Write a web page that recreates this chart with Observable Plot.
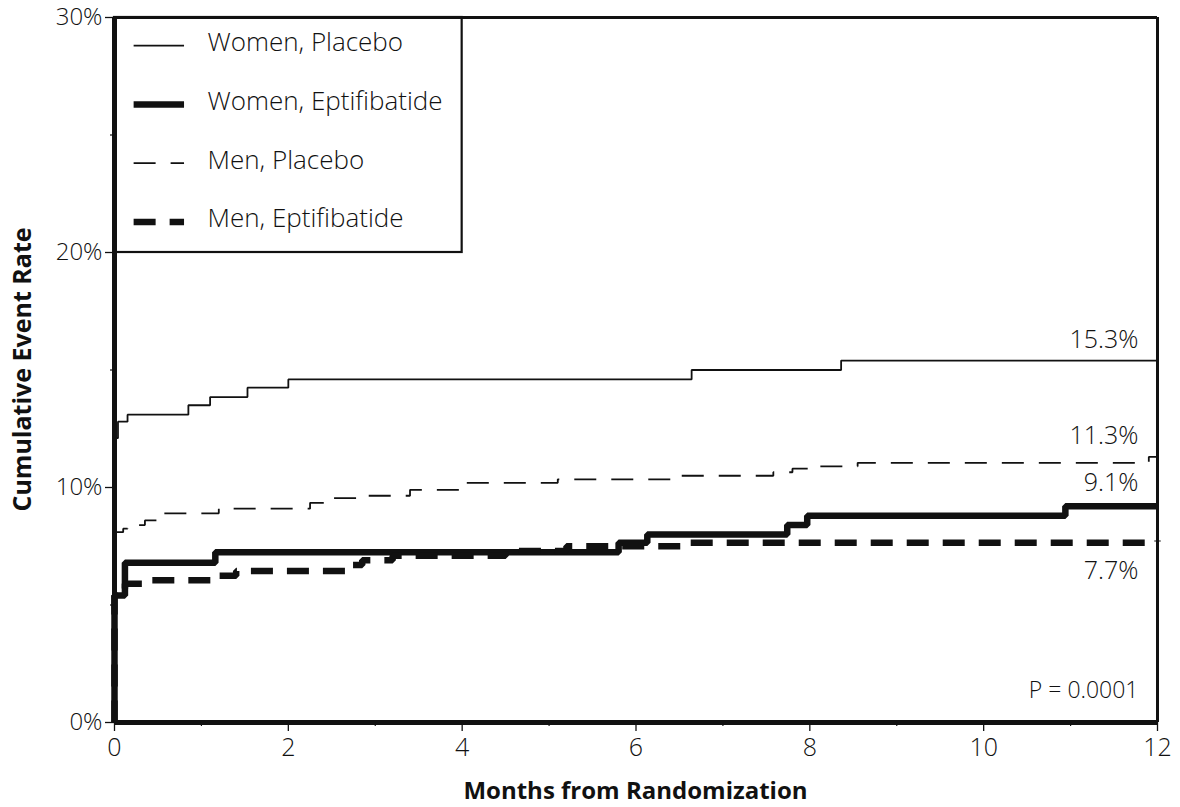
<!DOCTYPE html>
<html>
<head>
<meta charset="utf-8">
<script src="https://cdn.jsdelivr.net/npm/d3@7"></script>
<script src="https://cdn.jsdelivr.net/npm/@observablehq/plot@0.6"></script>
<style>
  html, body { margin: 0; padding: 0; background: #fff; }
  #chart { width: 1180px; height: 807px; }
</style>
</head>
<body>
<div id="chart"></div>
<script>
// ---- Data (months, cumulative event rate in %) ----
const seriesNames = ["Women, Placebo", "Women, Eptifibatide", "Men, Placebo", "Men, Eptifibatide"];

const womenPlaceboMonths = [0, 0, 0.04, 0.15, 0.85, 1.1, 1.53, 2.0, 6.64, 8.36, 12];
const womenPlaceboRate   = [0, 12.1, 12.8, 13.1, 13.5, 13.85, 14.25, 14.6, 15.0, 15.4, 15.4];

const womenEptiMonths = [0, 0, 0.12, 1.16, 5.8, 6.13, 7.74, 7.97, 10.94, 12];
const womenEptiRate   = [0, 5.4, 6.8, 7.25, 7.65, 8.0, 8.4, 8.8, 9.2, 9.2];

const menPlaceboMonths = [0, 0, 0.1, 0.15, 0.35, 0.55, 1.2, 2.25, 2.45, 2.85, 3.4, 4.0, 5.1, 6.5, 7.58, 7.8, 8.1, 8.55, 11.9, 12];
const menPlaceboRate   = [0, 8.1, 8.25, 8.4, 8.6, 8.9, 9.1, 9.35, 9.55, 9.65, 9.9, 10.2, 10.35, 10.5, 10.65, 10.8, 10.9, 11.05, 11.3, 11.3];

const menEptiMonths = [0, 0, 0.06, 0.12, 0.32, 1.15, 1.4, 2.7, 2.85, 3.2, 4.5, 5.2, 6.6, 12];
const menEptiRate   = [0, 5.4, 5.7, 5.9, 6.05, 6.25, 6.45, 6.7, 6.9, 7.1, 7.3, 7.5, 7.65, 7.75];

const endLabels = ["15.3%", "9.1%", "11.3%", "7.7%"];
const pValueText = "P = 0.0001";
const xTicks = [0, 2, 4, 6, 8, 10, 12];
const yTicks = [0, 10, 20, 30];
const xMinorTicks = [1, 3, 5, 7, 9, 11];
const yMinorTicks = [5, 15, 25];
const xTitle = "Months from Randomization";
const yTitle = "Cumulative Event Rate";

// ---- Build tables ----
function toRows(months, rates, name) {
  return months.map((m, i) => ({ month: m, rate: rates[i], series: name }));
}
const seriesRows = [
  toRows(womenPlaceboMonths, womenPlaceboRate, seriesNames[0]),
  toRows(womenEptiMonths, womenEptiRate, seriesNames[1]),
  toRows(menPlaceboMonths, menPlaceboRate, seriesNames[2]),
  toRows(menEptiMonths, menEptiRate, seriesNames[3])
];

// styles per series (kept separate from data)
const styles = [
  { strokeWidth: 1.8, dash: null },
  { strokeWidth: 6.5, dash: null },
  { strokeWidth: 1.8, dash: "22,15" },
  { strokeWidth: 6.5, dash: "22,14" }
];
const labelDy = [-21, -23, -21, 31];

const ink = "#111";
const font = "'Open Sans', 'DejaVu Sans', sans-serif";

// legend geometry in data space (legend box spans 0–4 months, 20–30%)
const legendRows = seriesNames.map((name, i) => ({ name, y: 28.8 - i * 2.5, i }));

const marks = [];

// legend box
marks.push(Plot.rect([0], { x1: () => 0, x2: () => 4, y1: () => 20, y2: () => 30, fill: "white", stroke: ink, strokeWidth: 2.2 }));

// series lines
seriesRows.forEach((rows, i) => {
  marks.push(Plot.line(rows, {
    x: "month", y: "rate", curve: "step-after",
    stroke: ink, strokeWidth: styles[i].strokeWidth,
    strokeDasharray: styles[i].dash, strokeLinecap: "butt", strokeLinejoin: "miter"
  }));
});

// legend swatches + labels
legendRows.forEach(r => {
  marks.push(Plot.link([r], {
    x1: () => 0.22, x2: () => 0.8, y1: "y", y2: "y",
    stroke: ink, strokeWidth: styles[r.i].strokeWidth,
    strokeDasharray: styles[r.i].dash, strokeLinecap: "butt"
  }));
});
marks.push(Plot.text(legendRows, {
  x: () => 1.07, y: "y", text: "name", textAnchor: "start",
  dy: -3, fontSize: 26, fill: ink, fontWeight: 300
}));

// end-of-curve labels
seriesRows.forEach((rows, i) => {
  const last = rows[rows.length - 1];
  marks.push(Plot.text([last], {
    x: "month", y: "rate", text: () => endLabels[i], textAnchor: "end",
    dx: -19, dy: labelDy[i], fontSize: 25, fill: ink, fontWeight: 300
  }));
});

// P value
marks.push(Plot.text([pValueText], {
  x: () => 12, y: () => 0, text: d => d, textAnchor: "end",
  dx: -19, dy: -32, fontSize: 23, fill: ink, fontWeight: 300
}));

// frame
marks.push(Plot.ruleY([30], { stroke: ink, strokeWidth: 3 }));
marks.push(Plot.ruleX([12], { stroke: ink, strokeWidth: 3 }));
marks.push(Plot.ruleX([0], { stroke: ink, strokeWidth: 5 }));
marks.push(Plot.ruleY([0], { stroke: ink, strokeWidth: 5 }));

// minor ticks
marks.push(Plot.axisX(xMinorTicks, { tickSize: 4, text: null, label: null, stroke: ink, strokeWidth: 1.2 }));
marks.push(Plot.axisY(yMinorTicks, { tickSize: 4, text: null, label: null, stroke: ink, strokeWidth: 1.2 }));

// axes
marks.push(Plot.axisX(xTicks, {
  tickSize: 9, tickPadding: 7, fontSize: 25, stroke: ink, strokeWidth: 1.3, fill: ink,
  label: null, fontWeight: 300
}));
marks.push(Plot.axisY(yTicks, {
  tickSize: 9, tickPadding: 3, fontSize: 24, stroke: ink, strokeWidth: 1.3, fill: ink,
  tickFormat: d => d + "%", label: null, fontWeight: 300
}));

const plot = Plot.plot({
  width: 1180,
  height: 807,
  marginLeft: 114,
  marginRight: 23,
  marginTop: 17,
  marginBottom: 85,
  style: { fontFamily: font, color: ink, background: "white" },
  x: { domain: [0, 12] },
  y: { domain: [0, 30] },
  marks
});

const svg = d3.select(plot);
const xs = plot.scale("x");
const ys = plot.scale("y");

// x-axis title
svg.append("text")
  .attr("x", (xs.apply(0) + xs.apply(12)) / 2)
  .attr("y", 799)
  .attr("text-anchor", "middle")
  .attr("font-size", 24)
  .attr("font-weight", "bold")
  .attr("fill", ink)
  .attr("font-family", font)
  .text(xTitle);

// y-axis title
svg.append("text")
  .attr("transform", `translate(31,${(ys.apply(0) + ys.apply(30)) / 2}) rotate(-90)`)
  .attr("text-anchor", "middle")
  .attr("font-size", 25)
  .attr("font-weight", "bold")
  .attr("fill", ink)
  .attr("font-family", font)
  .text(yTitle);

document.getElementById("chart").appendChild(plot);
</script>
</body>
</html>
